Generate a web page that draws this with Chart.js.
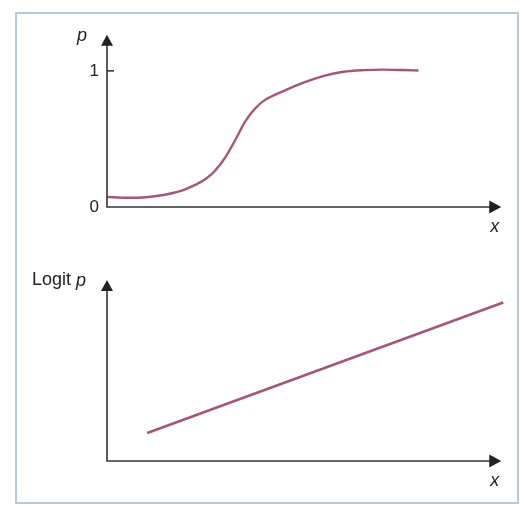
<!DOCTYPE html>
<html>
<head>
<meta charset="utf-8">
<title>p and logit p against x</title>
<script src="https://cdn.jsdelivr.net/npm/chart.js@4.4.1/dist/chart.umd.min.js"></script>
<style>
  body { margin: 0; background: #fff; }
  #frame { position: absolute; left: 15px; top: 12px; width: 500px; height: 488px; border: 2px solid #b7c9d4; }
  canvas { position: absolute; left: 0; }
</style>
</head>
<body>
<div id="frame"></div>
<canvas id="prob-chart" width="520" height="250" style="top:0"></canvas>
<canvas id="logit-chart" width="520" height="255" style="top:250px"></canvas>
<script>
// S-shaped probability curve
const probX = [0, 0.5, 1, 1.5, 2, 2.5, 2.75, 3, 3.25, 3.5, 3.75, 4, 4.5, 5, 5.5, 6, 6.5, 7, 7.5, 7.9]
const probY = [0.074, 0.068, 0.072, 0.092, 0.132, 0.205, 0.27, 0.365, 0.49, 0.625, 0.722, 0.785, 0.855, 0.915, 0.963, 0.993, 1.005, 1.009, 1.006, 1.002]
const probTicks = [0, 1]

// straight logit line (arbitrary units)
const logitX = [1.02, 10.05]
const logitY = [2.8, 15.85]

const lineColor = 'rgb(168, 84, 116)'
const axisColor = '#333'
const fontFamily = '"Liberation Sans", Arial, sans-serif'

//draws the arrowed axes, the tick mark at 1 and the axis names
const arrowAxes = {
    id: 'arrowAxes',
    afterDatasetsDraw(chart, args, opts) {
        const ctx = chart.ctx
        const xs = chart.scales.x, ys = chart.scales.y
        const ox = xs.getPixelForValue(0), oy = ys.getPixelForValue(0)
        const xTip = xs.getPixelForValue(opts.xEnd)
        const yTip = ys.getPixelForValue(opts.yEnd)
        ctx.save()
        ctx.strokeStyle = axisColor
        ctx.fillStyle = '#222'
        ctx.lineWidth = 1.6
        ctx.beginPath()
        ctx.moveTo(ox, yTip + 9)
        ctx.lineTo(ox, oy)
        ctx.lineTo(xTip - 10, oy)
        ctx.stroke()
        //arrow heads
        ctx.beginPath()
        ctx.moveTo(ox, yTip)
        ctx.lineTo(ox - 6, yTip + 11)
        ctx.lineTo(ox + 6, yTip + 11)
        ctx.closePath()
        ctx.fill()
        ctx.beginPath()
        ctx.moveTo(xTip, oy)
        ctx.lineTo(xTip - 12, oy - 6.5)
        ctx.lineTo(xTip - 12, oy + 6.5)
        ctx.closePath()
        ctx.fill()
        //inner tick marks
        ;(opts.marks || []).forEach(v => {
            const py = ys.getPixelForValue(v)
            ctx.beginPath()
            ctx.moveTo(ox, py)
            ctx.lineTo(ox + 7, py)
            ctx.stroke()
        })
        //axis names
        ctx.textBaseline = 'alphabetic'
        ctx.textAlign = 'left'
        let lx = ox - opts.yGap
        if (opts.yName) {
            ctx.font = '18px ' + fontFamily
            ctx.fillText(opts.yName, lx, yTip + 5)
            lx += ctx.measureText(opts.yName).width
        }
        ctx.font = 'italic 18px ' + fontFamily
        ctx.fillText(opts.yItalic, lx, yTip + 6)
        ctx.fillText('x', xTip - 11, oy + 25)
        ctx.restore()
    }
}

const probChartCanvas = document.querySelector('#prob-chart')
new Chart(probChartCanvas.getContext('2d'), {
    type: 'scatter',
    data: {
        datasets: [{
            data: probX.map((x, i) => ({ x: x, y: probY[i] })),
            showLine: true,
            borderColor: lineColor,
            borderWidth: 2.4,
            pointRadius: 0,
            cubicInterpolationMode: 'monotone',
            clip: false
        }]
    },
    options: {
        responsive: false,
        animation: false,
        layout: { padding: { left: 0, right: 3, top: 30, bottom: 43 } },
        plugins: {
            legend: { display: false },
            tooltip: { enabled: false },
            arrowAxes: { xEnd: 10, yEnd: 1.265, marks: [1], yName: '', yItalic: 'p', yGap: 30 }
        },
        scales: {
            x: { type: 'linear', min: 0, max: 10.4, display: false },
            y: {
                type: 'linear', min: 0, max: 1.3,
                grid: { display: false, drawTicks: false },
                border: { display: false },
                afterBuildTicks: scale => { scale.ticks = probTicks.map(v => ({ value: v })) },
                afterFit: scale => { scale.width = 107 },
                ticks: { padding: 8, color: '#222', font: { family: fontFamily, size: 17 } }
            }
        }
    },
    plugins: [arrowAxes]
})

const logitChartCanvas = document.querySelector('#logit-chart')
new Chart(logitChartCanvas.getContext('2d'), {
    type: 'scatter',
    data: {
        datasets: [{
            data: logitX.map((x, i) => ({ x: x, y: logitY[i] })),
            showLine: true,
            borderColor: lineColor,
            borderWidth: 2.4,
            pointRadius: 0,
            clip: false
        }]
    },
    options: {
        responsive: false,
        animation: false,
        layout: { padding: { left: 107, right: 3, top: 21, bottom: 44 } },
        plugins: {
            legend: { display: false },
            tooltip: { enabled: false },
            arrowAxes: { xEnd: 10, yEnd: 18.1, marks: [], yName: 'Logit ', yItalic: 'p', yGap: 75 }
        },
        scales: {
            x: { type: 'linear', min: 0, max: 10.4, display: false },
            y: { type: 'linear', min: 0, max: 19, display: false }
        }
    },
    plugins: [arrowAxes]
})
</script>
</body>
</html>
